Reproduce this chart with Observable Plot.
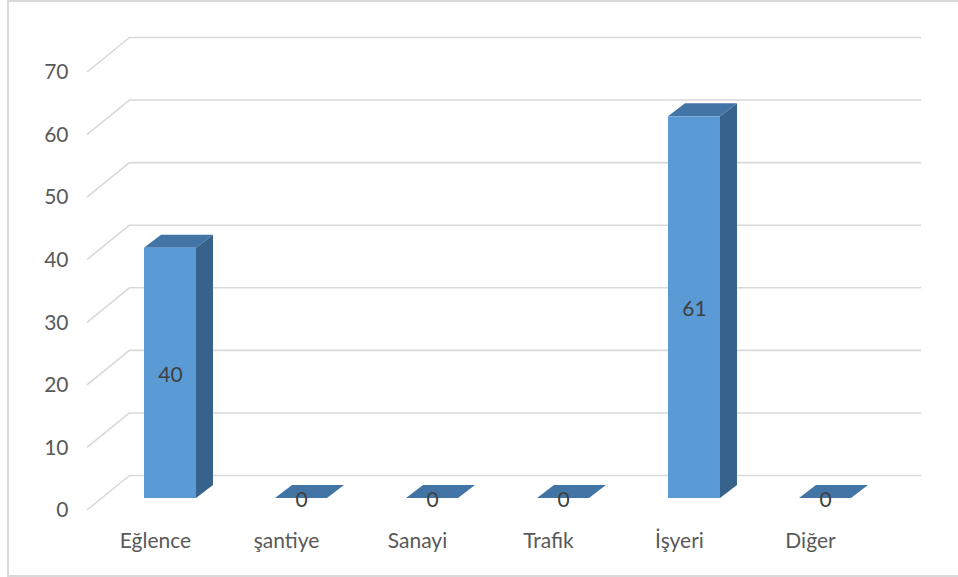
<!DOCTYPE html>
<html>
<head>
<meta charset="utf-8">
<script src="https://cdn.jsdelivr.net/npm/d3@7"></script>
<script src="https://cdn.jsdelivr.net/npm/@observablehq/plot@0.6"></script>
<style>
  html, body { margin: 0; padding: 0; background: #fff; overflow: hidden; }
  #wrap { position: relative; width: 958px; height: 577px; }
  #border { position: absolute; left: 7px; top: 0px; width: 1000px; height: 573px; border: 2px solid #d9d9d9; box-sizing: content-box; }
  #chart { position: absolute; left: 0; top: 0; }
</style>
</head>
<body>
<div id="wrap"><div id="border"></div><div id="chart"></div></div>
<script>
const categories = ["Eğlence", "şantiye", "Sanayi", "Trafik", "İşyeri", "Diğer"];
const counts = [40, 0, 0, 0, 61, 0];
const yTicks = [0, 10, 20, 30, 40, 50, 60, 70];

const data = categories.map((c, i) => ({cat: c, v: counts[i]}));

const FRONT = "#5b9bd5", TOP = "#4274a6", SIDE = "#37628b", GRID = "#d9d9d9";
const DX = 17, DY = -13;         // bar depth
const BACK_DX = 28, BACK_DY = -23; // back wall offset
const FRONT_DX = -15, FRONT_DY = 12; // floor front edge offset

function bw(scales) {
  const x = scales.x;
  if (x && typeof x.bandwidth === "function") return x.bandwidth();
  return scales.scales.x.bandwidth;
}

const chart = Plot.plot({
  width: 958,
  height: 577,
  marginLeft: 102,
  marginRight: 65,
  marginTop: 60,
  marginBottom: 79,
  style: {fontFamily: "Lato, 'Noto Sans', sans-serif", fontSize: "21px", background: "transparent"},
  x: {domain: categories, paddingInner: 0.6, paddingOuter: 0.3, label: null},
  y: {domain: [0, 70], label: null},
  marks: [
    // back wall gridlines
    Plot.ruleY(yTicks, {stroke: GRID, strokeWidth: 1.6, dx: BACK_DX, dy: BACK_DY}),
    // left side-wall diagonals
    Plot.ruleY(yTicks, {
      stroke: GRID, strokeWidth: 1.6,
      render(index, scales, values, dims, ctx, next) {
        const g = d3.create("svg:g");
        const x0 = dims.marginLeft;
        for (const t of yTicks) {
          const y = scales.y(t);
          g.append("line")
            .attr("x1", x0 + FRONT_DX).attr("y1", y + FRONT_DY)
            .attr("x2", x0 + BACK_DX).attr("y2", y + BACK_DY)
            .attr("stroke", GRID).attr("stroke-width", 1.6);
        }
        return g.node();
      }
    }),
    // 3D sides and tops
    Plot.barY(data, {
      x: "cat", y: "v", fill: TOP,
      render(index, scales, values, dims, ctx, next) {
        const g = d3.create("svg:g");
        const w = bw(scales);
        for (const d of data) {
          const xl = scales.x(d.cat), xr = xl + w;
          const yb = scales.y(0), yt = scales.y(d.v);
          if (d.v > 0) {
            g.append("path")
              .attr("d", `M${xr},${yt}L${xr},${yb}L${xr + DX},${yb + DY}L${xr + DX},${yt + DY}Z`)
              .attr("fill", SIDE);
          }
          g.append("path")
            .attr("d", `M${xl},${yt}L${xr},${yt}L${xr + DX},${yt + DY}L${xl + DX},${yt + DY}Z`)
            .attr("fill", TOP);
        }
        return g.node();
      }
    }),
    // front faces
    Plot.barY(data, {x: "cat", y: "v", fill: FRONT}),
    // value labels
    Plot.text(data, {x: "cat", y: d => d.v / 2, text: d => String(d.v), fill: "#404040", fontSize: 21, dy: 2}),
    Plot.axisY({ticks: yTicks, tickSize: 0, tickPadding: 34, dy: 12, fill: "#595959", fontSize: 21, label: null}),
    Plot.axisX({tickSize: 0, tickPadding: 35, dx: FRONT_DX, fill: "#595959", fontSize: 21, label: null})
  ]
});
document.getElementById("chart").appendChild(chart);
</script>
</body>
</html>
